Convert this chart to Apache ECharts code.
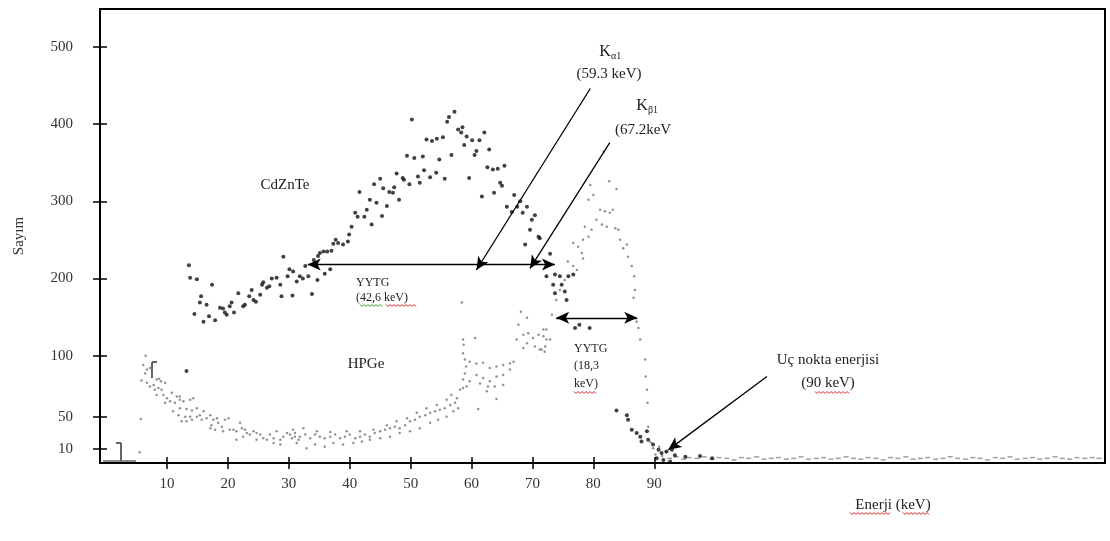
<!DOCTYPE html>
<html>
<head>
<meta charset="utf-8">
<title>CdZnTe / HPGe</title>
<script src="https://cdn.jsdelivr.net/npm/echarts@6/dist/echarts.min.js"></script>
<style>
  html, body { margin: 0; padding: 0; background: #fff; }
  #chart { width: 1110px; height: 541px; }
</style>
</head>
<body>
<div id="chart"></div>
<script>
// [enerji keV, sayım]
const cdZnTe = [
  [13.2, 80], [13.6, 217], [13.8, 201], [14.5, 154], [14.9, 199], [15.4, 169], [15.6, 177], [16.0, 144],
  [16.5, 166], [16.9, 151], [17.4, 192], [17.9, 146], [18.7, 162], [19.2, 161], [19.5, 156], [19.8, 153],
  [20.3, 164], [20.6, 169], [21.0, 156], [21.7, 181], [22.5, 164], [22.8, 166], [23.5, 177], [23.9, 185],
  [24.2, 172], [24.6, 170], [25.3, 179], [25.6, 192], [25.8, 195], [26.4, 188], [26.8, 190], [27.2, 200],
  [28.0, 201], [28.6, 192], [28.8, 177], [29.1, 228], [29.8, 203], [30.1, 212], [30.6, 178], [30.7, 209],
  [31.3, 196], [31.8, 203], [32.3, 200], [32.7, 216], [33.2, 203], [33.8, 180], [34.1, 224], [34.7, 198],
  [34.8, 229], [35.1, 233], [35.7, 235], [35.9, 206], [36.3, 235], [36.8, 212], [37.0, 236], [37.3, 245],
  [37.7, 250], [38.1, 246], [38.9, 244], [39.7, 248], [39.9, 257], [40.3, 267], [40.9, 285], [41.3, 280],
  [41.6, 312], [42.4, 280], [42.8, 289], [43.3, 302], [43.6, 270], [44.0, 322], [44.4, 298], [45.0, 329],
  [45.3, 281], [45.5, 317], [46.1, 294], [46.5, 312], [47.1, 311], [47.3, 318], [47.7, 336], [48.1, 302],
  [48.7, 330], [48.9, 328], [49.4, 359], [49.8, 322], [50.2, 406], [50.6, 356], [51.2, 332], [51.5, 324],
  [52.0, 358], [52.2, 340], [52.6, 380], [53.2, 331], [53.5, 378], [54.2, 337], [54.3, 381], [54.7, 354],
  [55.3, 383], [55.6, 329], [56.0, 403], [56.3, 409], [56.7, 360], [57.2, 416], [57.8, 393], [58.3, 389],
  [58.5, 396], [58.8, 373], [59.2, 384], [59.6, 330], [60.1, 379], [60.5, 360], [60.8, 365], [61.3, 379],
  [61.7, 306], [62.1, 389], [62.6, 344], [62.9, 367], [63.5, 341], [63.7, 311], [64.3, 342], [64.7, 324],
  [65.0, 320], [65.4, 346], [65.8, 293], [66.6, 286], [67.0, 308], [67.5, 293], [68.0, 300], [68.4, 285],
  [68.8, 244], [69.1, 293], [69.6, 263], [69.9, 276], [70.4, 282], [71.0, 254], [71.2, 252], [72.3, 203],
  [72.9, 232], [73.4, 192], [73.7, 205], [73.7, 181], [74.5, 203], [74.8, 192], [75.3, 183], [75.6, 172],
  [75.9, 203], [76.7, 205], [77.0, 136], [77.7, 140], [79.4, 136], [83.8, 29], [85.5, 23], [85.7, 17],
  [86.3, 4], [87.1, 0], [87.7, -5], [87.9, -11], [88.8, 2], [89.0, -9], [89.8, -15], [90.4, -33],
  [90.7, -22], [91.2, -26], [91.5, -35], [92.0, -24], [92.6, -37], [92.9, -22], [93.4, -29], [95.1, -31],
  [97.5, -30], [99.5, -33]
];

const hpge = [
  [5.5, -25], [5.7, 18], [5.8, 68], [6.1, 88], [6.4, 77], [6.5, 100], [6.7, 82], [6.7, 65], [7.2, 84],
  [7.2, 60], [7.8, 62], [8.0, 56], [8.3, 69], [8.3, 49], [8.6, 58], [8.7, 70], [9.0, 67], [9.1, 56],
  [9.4, 49], [9.7, 65], [9.7, 39], [10.0, 45], [10.5, 41], [10.8, 52], [11.0, 28], [11.3, 39], [11.6, 47],
  [11.9, 23], [12.1, 47], [12.1, 43], [12.1, 32], [12.4, 15], [12.7, 41], [13.0, 21], [13.2, 31], [13.2, 15],
  [13.8, 43], [13.8, 21], [14.1, 29], [14.1, 17], [14.3, 45], [14.9, 32], [14.9, 21], [15.4, 23], [15.7, 17],
  [16.0, 28], [16.5, 19], [17.1, 23], [17.1, 6], [17.3, 10], [17.6, 17], [17.9, 4], [18.2, 19], [18.4, 13],
  [19.0, 8], [19.2, 2], [19.5, 17], [20.1, 19], [20.3, 4], [20.9, 4], [21.4, 2], [21.4, -9], [22.0, 13],
  [22.3, 6], [22.5, -5], [22.8, 4], [23.1, 0], [23.6, -2], [24.2, 2], [24.7, 0], [24.7, -9], [25.3, -2],
  [25.8, -7], [26.4, -9], [26.9, -2], [27.5, -7], [27.5, -13], [28.0, 2], [28.6, -9], [28.6, -15], [29.1, -5],
  [29.7, 0], [30.2, -2], [30.5, -7], [30.7, 4], [31.0, -5], [31.0, 0], [31.3, -13], [31.6, -9], [31.8, -5],
  [32.4, 6], [32.7, -2], [32.9, -20], [33.5, -7], [34.3, -2], [34.3, -15], [34.6, 2], [35.1, -5], [35.9, -7],
  [35.9, -18], [36.8, -5], [36.8, 1], [37.3, -13], [37.6, -2], [38.4, -7], [38.9, -15], [39.2, -5], [39.5, 2],
  [40.0, -2], [40.6, -13], [40.9, -7], [41.7, -5], [41.7, 2], [42.0, -11], [42.5, -2], [43.3, -5], [43.3, -9],
  [43.9, 4], [44.1, 0], [45.0, 2], [45.0, -7], [45.8, 4], [46.1, 10], [46.6, 6], [46.6, -5], [47.4, 8],
  [47.7, 15], [48.2, 6], [48.2, 0], [49.1, 10], [49.4, 19], [49.9, 15], [49.9, 2], [50.7, 17], [51.0, 26],
  [51.5, 21], [51.5, 6], [52.4, 23], [52.6, 32], [53.2, 26], [53.2, 13], [54.0, 28], [54.3, 36], [54.5, 17],
  [54.8, 30], [55.6, 32], [55.9, 43], [55.9, 21], [56.5, 36], [56.7, 49], [57.0, 28], [57.3, 39], [57.6, 45],
  [57.8, 32], [58.1, 56], [58.4, 169], [58.6, 58], [58.6, 121], [58.6, 103], [58.6, 69], [58.7, 114],
  [58.9, 95], [58.9, 77], [59.1, 86], [59.2, 60], [59.7, 67], [59.7, 92], [60.6, 123], [60.8, 90], [60.8, 75],
  [61.1, 31], [61.4, 64], [61.9, 91], [61.9, 71], [62.5, 54], [62.7, 60], [63.0, 84], [63.0, 67], [63.8, 60],
  [64.1, 86], [64.1, 73], [64.1, 44], [65.2, 88], [65.2, 75], [65.2, 62], [66.3, 90], [66.3, 82], [66.9, 92],
  [67.4, 121], [67.7, 140], [68.1, 157], [68.5, 127], [68.5, 110], [69.1, 116], [69.1, 149], [69.3, 129],
  [70.1, 123], [70.4, 112], [71.0, 127], [71.2, 108], [71.5, 108], [71.8, 134], [71.8, 125], [72.0, 105],
  [72.1, 112], [72.3, 121], [72.3, 134], [72.9, 121], [73.2, 153], [73.9, 172], [74.5, 185], [75.3, 198],
  [75.8, 222], [76.7, 246], [76.7, 216], [77.3, 211], [77.5, 241], [78.1, 233], [78.3, 250], [78.3, 226],
  [78.6, 267], [79.2, 254], [79.2, 302], [79.5, 321], [79.7, 263], [80.0, 308], [80.5, 276], [81.1, 289],
  [81.4, 270], [81.7, 364], [81.9, 287], [82.2, 267], [82.6, 326], [82.7, 285], [83.2, 289], [83.6, 265],
  [83.8, 316], [84.1, 263], [84.4, 250], [84.9, 239], [85.5, 244], [85.7, 228], [86.3, 216], [86.6, 175],
  [86.7, 203], [86.8, 185], [87.1, 144], [87.4, 136], [87.7, 121], [88.5, 95], [88.6, 73], [88.8, 56],
  [88.9, 39], [89.0, 8], [89.4, -12], [89.8, -20], [90.2, -28], [90.8, -18], [91.3, -30], [91.9, -25]
];

// flat HPGe tail after the end-point energy
const hpgeTail = [
  [92.5, -33], [93.6, -31], [94.8, -34], [95.7, -32], [97.0, -33], [98.2, -31], [99.5, -34], [100.6, -32],
  [101.9, -33], [103.1, -35], [104.3, -32], [105.5, -33], [106.8, -31], [108.0, -34], [109.2, -33],
  [110.4, -32], [111.7, -34], [112.9, -33], [114.1, -31], [115.3, -34], [116.6, -33], [117.8, -32],
  [119.0, -34], [120.2, -33], [121.5, -31], [122.7, -33], [123.9, -34], [125.1, -32], [126.4, -33],
  [127.6, -35], [128.8, -32], [130.0, -33], [131.3, -31], [132.5, -34], [133.7, -33], [134.9, -32],
  [136.2, -34], [137.4, -33], [138.6, -31], [139.8, -33], [141.1, -34], [142.3, -32], [143.5, -33],
  [144.7, -35], [146.0, -32], [147.2, -33], [148.4, -31], [149.6, -34], [150.9, -33], [152.1, -32],
  [153.3, -34], [154.5, -33], [155.8, -31], [157.0, -33], [158.2, -34], [159.4, -32], [160.7, -33],
  [161.9, -32], [163.0, -33]
];

const xTicks = [10, 20, 30, 40, 50, 60, 70, 80, 90];
const yTickValues = [-21, 21, 100, 200, 300, 400, 500];
const yTickLabels = ['10', '50', '100', '200', '300', '400', '500'];

const serif = 'Liberation Serif';
const chart = echarts.init(document.getElementById('chart'));

function txt(x, y, text, size, align) {
  return {
    type: 'text', silent: true,
    style: {
      x: x, y: y, text: text, fill: '#222',
      font: size + 'px "' + serif + '"',
      textAlign: align || 'center', textVerticalAlign: 'middle'
    }
  };
}

// spell-check squiggle under some words
function wavy(x1, x2, y, color) {
  const pts = [];
  for (let x = x1, i = 0; x <= x2; x += 2, i++) pts.push([x, y + (i % 2 ? 1.5 : -0.5)]);
  return { type: 'polyline', silent: true, shape: { points: pts }, style: { stroke: color, lineWidth: 1, fill: null } };
}

function seg(x1, y1, x2, y2, color) {
  return { type: 'line', silent: true, shape: { x1: x1, y1: y1, x2: x2, y2: y2 }, style: { stroke: color || '#333', lineWidth: 1.5 } };
}

const gridBox = { left: 100, right: 5, top: 9, bottom: 78, outerBoundsMode: 'none' };
const tickStyle = { color: '#000', width: 1.5 };

// grid 1 only carries the inner half of each tick, so ticks cross the axis line
chart.setOption({
  animation: false,
  grid: [
    { ...gridBox, show: true, borderColor: '#000', borderWidth: 2 },
    { ...gridBox }
  ],
  xAxis: [{
    type: 'value', min: -1, max: 164, splitLine: { show: false },
    axisLine: { onZero: false, lineStyle: { color: '#000', width: 2 } },
    axisTick: { customValues: xTicks, length: 6, lineStyle: tickStyle },
    axisLabel: { customValues: xTicks, margin: 14, fontFamily: serif, fontSize: 15, color: '#333' }
  }, {
    type: 'value', gridIndex: 1, min: -1, max: 164, splitLine: { show: false },
    axisLine: { show: false, onZero: false },
    axisTick: { customValues: xTicks, inside: true, length: 6, lineStyle: tickStyle },
    axisLabel: { show: false }
  }],
  yAxis: [{
    type: 'value', min: -39, max: 549, splitLine: { show: false },
    name: 'Sayım', nameLocation: 'middle', nameGap: 73, nameRotate: 90,
    nameTextStyle: { fontFamily: serif, fontSize: 15, color: '#333' },
    axisLine: { show: true, onZero: false, lineStyle: { color: '#000', width: 2 } },
    axisTick: { show: true, customValues: yTickValues, length: 7, lineStyle: tickStyle },
    axisLabel: {
      customValues: yTickValues, margin: 27, fontFamily: serif, fontSize: 15, color: '#333',
      formatter: (v) => yTickLabels[yTickValues.indexOf(v)]
    }
  }, {
    type: 'value', gridIndex: 1, min: -39, max: 549, splitLine: { show: false },
    axisLine: { show: false, onZero: false },
    axisTick: { show: true, inside: true, customValues: yTickValues, length: 7, lineStyle: tickStyle },
    axisLabel: { show: false }
  }],
  series: [{
    name: 'HPGe',
    type: 'scatter',
    data: hpge,
    symbolSize: 2.5,
    itemStyle: { color: '#777' },
    silent: true
  }, {
    name: 'HPGe',
    type: 'scatter',
    data: hpgeTail,
    symbol: 'rect',
    symbolSize: [5, 1.5],
    itemStyle: { color: '#888' },
    silent: true
  }, {
    name: 'CdZnTe',
    type: 'scatter',
    data: cdZnTe,
    symbolSize: 4,
    itemStyle: { color: '#111' },
    silent: true,
    markLine: {
      silent: true,
      symbolSize: [9, 13],
      label: { show: false },
      lineStyle: { color: '#000', width: 1.3, type: 'solid' },
      emphasis: { disabled: true },
      data: [
        [{ coord: [33.1, 218], symbol: 'arrow' }, { coord: [73.7, 218], symbol: 'arrow' }],
        [{ coord: [73.9, 149], symbol: 'arrow' }, { coord: [87.2, 149], symbol: 'arrow' }],
        [{ coord: [79.5, 446], symbol: 'none' }, { coord: [60.8, 211], symbol: 'arrow' }],
        [{ coord: [82.7, 376], symbol: 'none' }, { coord: [69.6, 213], symbol: 'arrow' }],
        [{ coord: [108.5, 73], symbol: 'none' }, { coord: [92.3, -22], symbol: 'arrow' }]
      ]
    }
  }],
  graphic: [
    txt(285, 185, 'CdZnTe', 15),
    txt(366, 364, 'HPGe', 15),
    txt(605, 52, 'K', 16),
    txt(611, 56, 'α1', 10, 'left'),
    txt(609, 74, '(59.3 keV)', 15),
    txt(642, 106, 'K', 16),
    txt(648, 110, 'β1', 10, 'left'),
    txt(643, 130, '(67.2keV', 15),
    txt(356, 283, 'YYTG', 12, 'left'),
    txt(356, 298, '(42,6 keV)', 12, 'left'),
    txt(574, 349, 'YYTG', 12, 'left'),
    txt(574, 366, '(18,3', 12, 'left'),
    txt(574, 384, 'keV)', 12, 'left'),
    txt(828, 360, 'Uç nokta enerjisi', 15),
    txt(828, 383, '(90 keV)', 15),
    txt(893, 505, 'Enerji (keV)', 15),
    wavy(360, 382, 305, '#2a9a2a'),
    wavy(386, 416, 305, '#d22'),
    wavy(574, 596, 392, '#d22'),
    wavy(815, 850, 392, '#d22'),
    wavy(850, 890, 513, '#d22'),
    wavy(903, 930, 513, '#d22'),
    seg(152, 362, 152, 378), seg(152, 362, 157, 362),
    seg(121, 443, 121, 461), seg(116, 443, 121, 443),
    seg(103, 461, 136, 461, '#666')
  ]
});
</script>
</body>
</html>
